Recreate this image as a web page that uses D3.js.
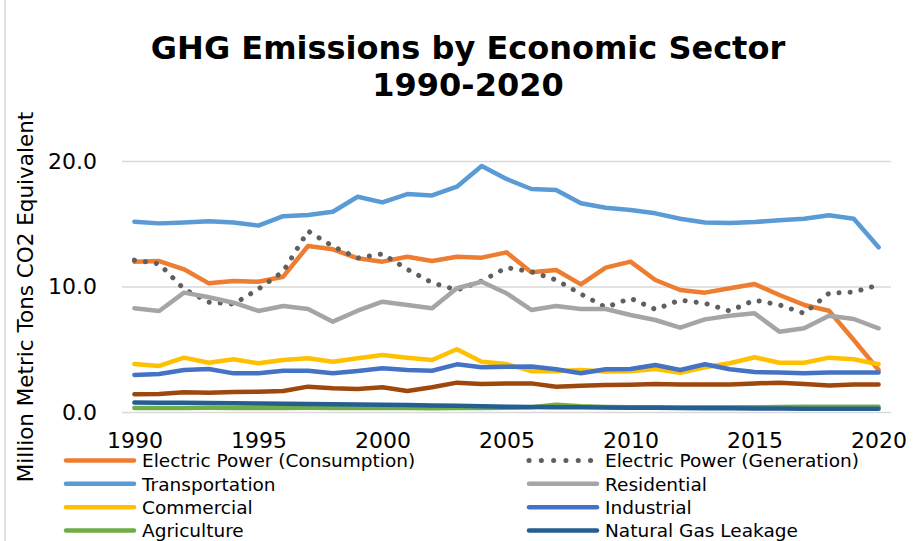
<!DOCTYPE html>
<html>
<head>
<meta charset="utf-8">
<script src="https://cdn.jsdelivr.net/npm/d3@7"></script>
<style>
  html, body { margin: 0; padding: 0; background: #fff; }
  svg { display: block; font-family: "DejaVu Sans", Verdana, sans-serif; }
</style>
</head>
<body>
<svg id="chart" width="920" height="541"></svg>
<script>
// ---------- DATA ----------
const years = [1990,1991,1992,1993,1994,1995,1996,1997,1998,1999,2000,2001,2002,2003,2004,2005,2006,2007,2008,2009,2010,2011,2012,2013,2014,2015,2016,2017,2018,2019,2020];
const xTickYears = [1990, 1995, 2000, 2005, 2010, 2015, 2020];
const yTicks = [0, 10, 20];

const electricConsumption = [11.98,12.03,11.37,10.25,10.44,10.38,10.78,13.23,12.96,12.25,11.98,12.37,12.03,12.37,12.30,12.72,11.13,11.31,10.17,11.50,11.98,10.52,9.72,9.51,9.86,10.20,9.32,8.53,8.07,5.74,3.35];
const electricGeneration  = [12.10,11.80,9.80,8.75,8.60,9.80,11.20,14.42,13.20,12.27,12.60,11.37,10.30,9.72,10.44,11.50,11.18,10.52,9.40,8.34,9.06,8.18,8.92,8.66,8.05,8.92,8.53,7.86,9.46,9.56,10.12];
const transportation      = [15.16,15.03,15.10,15.20,15.10,14.85,15.60,15.70,15.96,17.15,16.70,17.37,17.26,17.95,19.60,18.57,17.77,17.69,16.63,16.28,16.10,15.83,15.40,15.10,15.06,15.14,15.27,15.40,15.67,15.40,13.12];
const residential         = [8.26,8.05,9.51,9.14,8.71,8.05,8.45,8.21,7.20,8.07,8.79,8.53,8.26,9.86,10.38,9.46,8.13,8.45,8.21,8.21,7.73,7.33,6.72,7.38,7.67,7.86,6.40,6.67,7.67,7.41,6.67];
const commercial          = [3.82,3.67,4.33,3.93,4.20,3.88,4.14,4.28,4.01,4.28,4.54,4.33,4.14,5.00,4.01,3.82,3.25,3.24,3.35,3.22,3.25,3.43,3.13,3.56,3.88,4.36,3.93,3.93,4.33,4.20,3.80];
const industrial          = [2.95,3.03,3.35,3.43,3.08,3.08,3.29,3.29,3.08,3.27,3.48,3.35,3.29,3.80,3.56,3.61,3.62,3.40,3.08,3.40,3.43,3.75,3.35,3.80,3.40,3.19,3.14,3.08,3.14,3.14,3.14];
const agriculture         = [0.32,0.31,0.32,0.33,0.32,0.31,0.32,0.33,0.32,0.31,0.32,0.31,0.30,0.31,0.32,0.33,0.38,0.58,0.45,0.40,0.38,0.37,0.36,0.38,0.37,0.38,0.40,0.41,0.41,0.42,0.42];
const naturalGasLeakage   = [0.75,0.74,0.73,0.71,0.69,0.67,0.65,0.63,0.61,0.59,0.57,0.55,0.52,0.49,0.45,0.42,0.40,0.38,0.37,0.35,0.34,0.33,0.31,0.30,0.29,0.28,0.27,0.26,0.26,0.25,0.25];
const otherSector         = [1.41,1.44,1.57,1.54,1.60,1.62,1.67,2.02,1.89,1.84,1.97,1.67,1.97,2.34,2.23,2.28,2.28,2.02,2.10,2.15,2.18,2.23,2.20,2.20,2.20,2.28,2.34,2.23,2.12,2.20,2.20];

const seriesNames = ["Electric Power (Consumption)","Electric Power (Generation)","Transportation","Residential","Commercial","Industrial","Agriculture","Natural Gas Leakage","Other"];
const seriesValues = [electricConsumption, electricGeneration, transportation, residential, commercial, industrial, agriculture, naturalGasLeakage, otherSector];
const seriesColors = ["#ED7D31","#5F5F5F","#5B9BD5","#A5A5A5","#FFC000","#4472C4","#70AD47","#255E91","#9E480E"];
const seriesDotted = [false,true,false,false,false,false,false,false,false];
const legendShown  = [true,true,true,true,true,true,true,true,false];

const titleLines = ["GHG Emissions by Economic Sector", "1990-2020"];
const yAxisTitle = "Million Metric Tons CO2 Equivalent";

// ---------- LAYOUT ----------
const svg = d3.select("#chart");
const plotLeft = 122, plotRight = 891, plotTop = 161, plotBottom = 412;

const x = d3.scalePoint().domain(years).range([plotLeft, plotRight]).padding(0.5);
const y = d3.scaleLinear().domain([0, 20]).range([plotBottom, plotTop]);

// chart-area border (left edge visible)
svg.append("line").attr("x1", 5).attr("x2", 5).attr("y1", 0).attr("y2", 541)
  .attr("stroke", "#D9D9D9").attr("stroke-width", 1.5);

// title
svg.append("g").selectAll("text").data(titleLines).join("text")
  .attr("x", 468).attr("y", (d, i) => 59 + i * 37)
  .attr("text-anchor", "middle")
  .attr("font-size", 32).attr("font-weight", "bold").attr("fill", "#000")
  .text(d => d);

// y axis with gridlines
const yAxis = svg.append("g").attr("transform", `translate(${plotLeft},0)`)
  .call(d3.axisLeft(y).tickValues(yTicks).tickFormat(d3.format(".1f"))
    .tickSize(-(plotRight - plotLeft)).tickPadding(25));
yAxis.select(".domain").remove();
yAxis.selectAll(".tick line").attr("stroke", "#D9D9D9").attr("stroke-width", 1.5);
yAxis.selectAll(".tick text").attr("font-size", 22).attr("fill", "#000")
  .attr("font-family", "DejaVu Sans, Verdana, sans-serif");

// x axis
const xAxis = svg.append("g").attr("transform", `translate(0,${plotBottom})`)
  .call(d3.axisBottom(x).tickValues(xTickYears).tickSize(0).tickPadding(20));
xAxis.select(".domain").remove();
xAxis.selectAll(".tick text").attr("font-size", 22).attr("fill", "#000")
  .attr("font-family", "DejaVu Sans, Verdana, sans-serif");

// y axis title
svg.append("text")
  .attr("transform", "translate(33,297) rotate(-90)")
  .attr("text-anchor", "middle")
  .attr("font-size", 21.5).attr("fill", "#000")
  .text(yAxisTitle);

// lines
const line = d3.line().x((d, i) => x(years[i])).y(d => y(d));
const linesG = svg.append("g");
seriesValues.forEach((vals, k) => {
  const p = linesG.append("path").datum(vals)
    .attr("d", line)
    .attr("fill", "none")
    .attr("stroke", seriesColors[k])
    .attr("stroke-linejoin", "round")
    .attr("stroke-linecap", "round");
  if (seriesDotted[k]) {
    p.attr("stroke-width", 5).attr("stroke-dasharray", "0.1 11");
  } else {
    p.attr("stroke-width", 4.5);
  }
});

// legend
const legendItems = seriesNames.map((n, i) => ({ name: n, color: seriesColors[i], dotted: seriesDotted[i], show: legendShown[i] }))
  .filter(d => d.show);
const colX = [64, 527];
const rowY = [460.5, 483.8, 507.2, 530.6];
const legend = svg.append("g");
legendItems.forEach((d, i) => {
  const cx = colX[i % 2], cy = rowY[Math.floor(i / 2)];
  const sw = legend.append("line")
    .attr("x1", cx + 2).attr("x2", cx + 70).attr("y1", cy).attr("y2", cy)
    .attr("stroke", d.color).attr("stroke-linecap", "round");
  if (d.dotted) sw.attr("stroke-width", 5).attr("stroke-dasharray", "0.1 12.2");
  else sw.attr("stroke-width", 4.5);
  legend.append("text")
    .attr("x", cx + 78).attr("y", cy + 6.7)
    .attr("font-size", 18.5).attr("fill", "#000")
    .text(d.name);
});
</script>
</body>
</html>
